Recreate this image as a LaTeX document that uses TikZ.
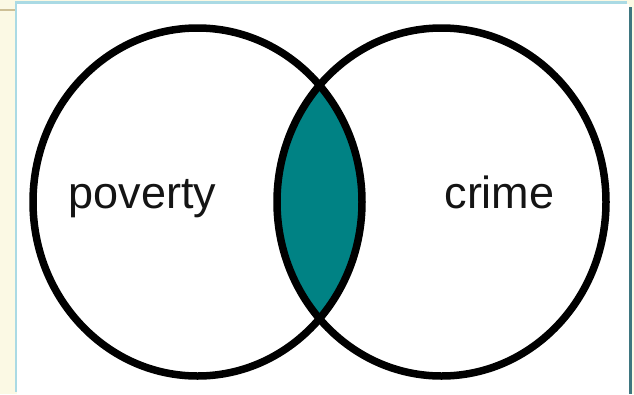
\documentclass[tikz,border=0pt]{standalone}
\usepackage{fontspec}
\setmainfont{Liberation Sans}
\definecolor{cream}{RGB}{251,249,228}
\definecolor{lblue}{RGB}{170,218,228}
\definecolor{tanline}{RGB}{205,192,150}
\definecolor{dteal}{RGB}{62,118,128}
\definecolor{lensfill}{RGB}{0,130,132}
\tikzset{
  vennline/.style={line width=7.5pt, draw=black},
  vennlabel/.style={font=\fontsize{45}{54}\selectfont, anchor=base, inner sep=0pt, text=black!92}
}
\begin{document}
\begin{tikzpicture}[x=1pt,y=-1pt]
\useasboundingbox (0,0) rectangle (634,394);
% page background
\fill[cream] (0,0) rectangle (634,394);
\fill[white] (17,3.5) rectangle (629,394);
\fill[white] (627,3.5) rectangle (629,7);
% frame lines
\fill[lblue] (14.5,1) rectangle (627,3.5);
\fill[lblue] (14.5,1) rectangle (17,391.5);
\fill[tanline] (0,9) rectangle (14.5,11);
\fill[dteal] (629,7) rectangle (631.5,394);
% lens
\begin{scope}
  \clip (197.5,202) ellipse [x radius=164.5pt, y radius=174pt];
  \fill[lensfill] (441.5,202) ellipse [x radius=164.5pt, y radius=174pt];
\end{scope}
% circles
\draw[vennline] (197.5,202) ellipse [x radius=164.5pt, y radius=174pt];
\draw[vennline] (441.5,202) ellipse [x radius=164.5pt, y radius=174pt];
% labels
\node[vennlabel] (poverty) at (142.5,208) {poverty};
\node[vennlabel] (crime) at (499.5,208) {crime};
\end{tikzpicture}
\end{document}
